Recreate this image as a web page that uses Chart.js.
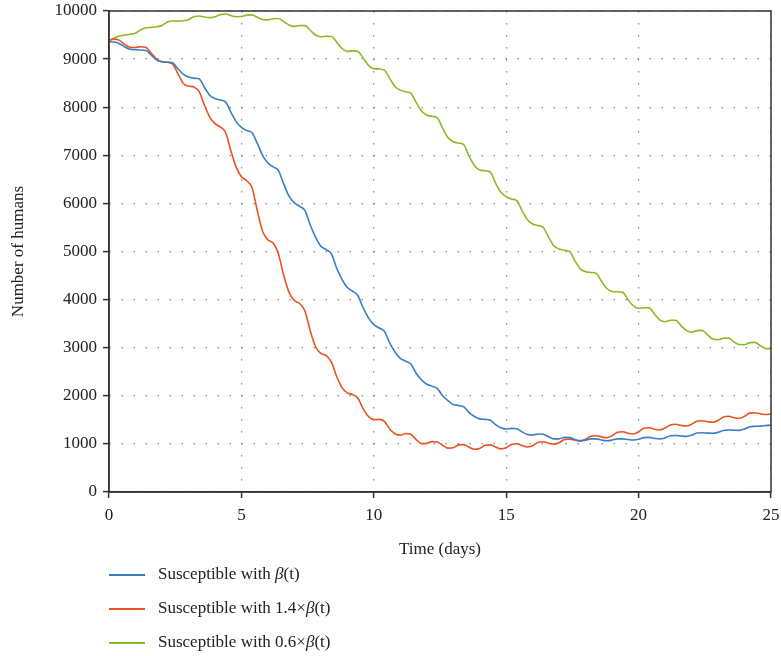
<!DOCTYPE html>
<html>
<head>
<meta charset="utf-8">
<script src="https://cdn.jsdelivr.net/npm/chart.js@4/dist/chart.umd.min.js"></script>
<style>
    body { margin: 0; background: #fff; }
    #wrap { position: relative; width: 781px; height: 656px; }
    #leyenda { position: absolute; left: 109px; top: 557px; font-family: "Liberation Serif", serif; font-size: 17px; color: #222; }
    #leyenda div { height: 34px; line-height: 34px; white-space: nowrap; }
    #leyenda span.linea { display: inline-block; width: 36px; height: 2px; vertical-align: middle; margin-right: 13px; }
</style>
</head>
<body>
<div id="wrap">
    <canvas id="grafico" width="781" height="656"></canvas>
    <div id="leyenda"></div>
</div>
<script>
// Tiempo en días (muestreo cada 0.2 días)
const tiempos = [
    0, 0.2, 0.4, 0.6, 0.8, 1, 1.2, 1.4, 1.6, 1.8, 2, 2.2, 2.4, 2.6, 2.8, 3, 3.2, 3.4, 3.6, 3.8,
    4, 4.2, 4.4, 4.6, 4.8, 5, 5.2, 5.4, 5.6, 5.8, 6, 6.2, 6.4, 6.6, 6.8, 7, 7.2, 7.4, 7.6, 7.8,
    8, 8.2, 8.4, 8.6, 8.8, 9, 9.2, 9.4, 9.6, 9.8, 10, 10.2, 10.4, 10.6, 10.8, 11, 11.2, 11.4, 11.6, 11.8,
    12, 12.2, 12.4, 12.6, 12.8, 13, 13.2, 13.4, 13.6, 13.8, 14, 14.2, 14.4, 14.6, 14.8, 15, 15.2, 15.4, 15.6, 15.8,
    16, 16.2, 16.4, 16.6, 16.8, 17, 17.2, 17.4, 17.6, 17.8, 18, 18.2, 18.4, 18.6, 18.8, 19, 19.2, 19.4, 19.6, 19.8,
    20, 20.2, 20.4, 20.6, 20.8, 21, 21.2, 21.4, 21.6, 21.8, 22, 22.2, 22.4, 22.6, 22.8, 23, 23.2, 23.4, 23.6, 23.8,
    24, 24.2, 24.4, 24.6, 24.8, 25
];

// Susceptibles con beta(t)
const susceptibleBeta = [
    9360, 9355, 9320, 9250, 9205, 9195, 9190, 9180, 9080, 8980,
    8945, 8935, 8925, 8800, 8690, 8630, 8605, 8590, 8420, 8250,
    8180, 8150, 8110, 7900, 7700, 7580, 7515, 7470, 7250, 7000,
    6840, 6760, 6680, 6400, 6150, 6010, 5940, 5850, 5550, 5300,
    5110, 5040, 4950, 4650, 4420, 4250, 4175, 4080, 3825, 3620,
    3480, 3410, 3340, 3100, 2910, 2780, 2720, 2660, 2470, 2330,
    2240, 2200, 2150, 2000, 1900, 1820, 1800, 1770, 1650, 1570,
    1520, 1510, 1490, 1400, 1335, 1310, 1322, 1315, 1250, 1195,
    1185, 1205, 1200, 1150, 1105, 1105, 1135, 1130, 1090, 1068,
    1075, 1105, 1105, 1080, 1067, 1080, 1105, 1105, 1090, 1080,
    1095, 1130, 1135, 1115, 1102, 1125, 1170, 1175, 1165, 1157,
    1180, 1225, 1232, 1225, 1220, 1240, 1280, 1290, 1285, 1282,
    1310, 1355, 1366, 1370, 1380, 1390
];

// Susceptibles con 1.4 x beta(t)
const susceptibleAlto = [
    9395, 9415, 9390, 9300, 9245, 9240, 9258, 9240, 9120, 9000,
    8945, 8935, 8900, 8700, 8500, 8440, 8420, 8330, 8050, 7800,
    7660, 7590, 7480, 7100, 6760, 6560, 6470, 6330, 5850, 5420,
    5245, 5175, 4950, 4500, 4150, 3980, 3920, 3760, 3350, 3020,
    2880, 2835, 2700, 2400, 2170, 2060, 2025, 1950, 1730, 1570,
    1505, 1510, 1470, 1310, 1210, 1180, 1215, 1200, 1090, 1005,
    1010, 1048, 1040, 970, 912, 920, 980, 985, 930, 888,
    905, 970, 980, 935, 897, 920, 985, 1003, 965, 936,
    960, 1030, 1046, 1015, 992, 1025, 1090, 1100, 1075, 1060,
    1095, 1160, 1170, 1145, 1129, 1170, 1240, 1254, 1220, 1206,
    1250, 1325, 1337, 1305, 1289, 1330, 1395, 1407, 1385, 1372,
    1410, 1470, 1482, 1462, 1449, 1490, 1560, 1574, 1545, 1532,
    1575, 1640, 1649, 1625, 1612, 1620
];

// Susceptibles con 0.6 x beta(t)
const susceptibleBajo = [
    9383, 9440, 9480, 9500, 9515, 9540, 9610, 9650, 9660, 9672,
    9700, 9770, 9792, 9790, 9798, 9820, 9880, 9896, 9875, 9862,
    9880, 9925, 9938, 9905, 9882, 9885, 9915, 9920, 9870, 9825,
    9815, 9840, 9845, 9780, 9710, 9680, 9698, 9695, 9600, 9500,
    9465, 9475, 9470, 9350, 9220, 9160, 9172, 9160, 9020, 8870,
    8800, 8795, 8770, 8600, 8430, 8355, 8320, 8290, 8100, 7920,
    7838, 7810, 7780, 7560, 7370, 7283, 7255, 7220, 6980, 6790,
    6694, 6680, 6650, 6420, 6230, 6139, 6090, 6060, 5850, 5660,
    5572, 5540, 5500, 5300, 5120, 5050, 5025, 4995, 4800, 4640,
    4580, 4565, 4545, 4380, 4230, 4170, 4162, 4150, 4000, 3870,
    3820, 3830, 3828, 3700, 3580, 3541, 3570, 3572, 3460, 3360,
    3322, 3355, 3360, 3270, 3180, 3165, 3195, 3200, 3120, 3065,
    3062, 3105, 3110, 3040, 2985, 2975
];

const etiquetas = ['Susceptible with β(t)', 'Susceptible with 1.4×β(t)', 'Susceptible with 0.6×β(t)'];
const colores = ['#3a7dc6', '#e8531e', '#8bba25'];

const fuente = '"Liberation Serif", "Times New Roman", serif';

// Convierte una serie en puntos {x, y}
function aPuntos(valores) {
    return tiempos.map((t, i) => ({ x: t, y: valores[i] }));
}

// Quita el relleno extra que Chart.js reserva para las etiquetas de los extremos
function ajustarEje(s, tam) {
    if (s.isHorizontal()) s.height = tam; else s.width = tam;
    s.paddingTop = 0;
    s.paddingBottom = 0;
    s.paddingLeft = 0;
    s.paddingRight = 0;
}

// Marco alrededor del área del gráfico
const marco = {
    id: 'marco',
    afterDraw(chart) {
        const { ctx, chartArea } = chart;
        ctx.save();
        ctx.strokeStyle = '#333';
        ctx.lineWidth = 1.5;
        ctx.strokeRect(chartArea.left, chartArea.top, chartArea.right - chartArea.left, chartArea.bottom - chartArea.top);
        ctx.restore();
    }
};

const series = [susceptibleBeta, susceptibleAlto, susceptibleBajo];

const grafico = new Chart(document.getElementById('grafico').getContext('2d'), {
    type: 'line',
    data: {
        datasets: series.map((valores, i) => ({
            label: etiquetas[i],
            data: aPuntos(valores),
            borderColor: colores[i],
            borderWidth: 1.6,
            pointRadius: 0,
            fill: false,
            cubicInterpolationMode: 'monotone'
        }))
    },
    options: {
        responsive: false,
        animation: false,
        layout: { padding: { top: 11, right: 10, bottom: 96, left: 0 } },
        plugins: { legend: { display: false }, tooltip: { enabled: false } },
        scales: {
            x: {
                type: 'linear',
                min: 0,
                max: 25,
                afterFit: s => ajustarEje(s, 68),
                ticks: { stepSize: 5, color: '#222', padding: 7, font: { family: fuente, size: 17 }, callback: v => v },
                grid: { color: '#888', lineWidth: 1.2, tickLength: 6, tickColor: '#333', tickWidth: 1.5 },
                border: { color: '#333', width: 1.5, dash: [1.5, 10.5] },
                title: { display: true, text: 'Time (days)', color: '#222', font: { family: fuente, size: 17 }, padding: { top: 4, bottom: 0 } }
            },
            y: {
                min: 0,
                max: 10000,
                afterFit: s => ajustarEje(s, 109),
                ticks: { stepSize: 1000, color: '#222', padding: 6, font: { family: fuente, size: 17 }, callback: v => v },
                grid: { color: '#888', lineWidth: 1.2, tickLength: 6, tickColor: '#333', tickWidth: 1.5 },
                border: { color: '#333', width: 1.5, dash: [1.5, 10.5] },
                title: { display: true, text: 'Number of humans', color: '#222', font: { family: fuente, size: 17 }, padding: { top: 8, bottom: 4 } }
            }
        }
    },
    plugins: [marco]
});

// Leyenda en HTML para poder poner beta en cursiva
document.getElementById('leyenda').innerHTML = grafico.data.datasets.map(ds =>
    '<div><span class="linea" style="background:' + ds.borderColor + '"></span>' +
    ds.label.replace('β', '<i>β</i>') + '</div>'
).join('');
</script>
</body>
</html>
